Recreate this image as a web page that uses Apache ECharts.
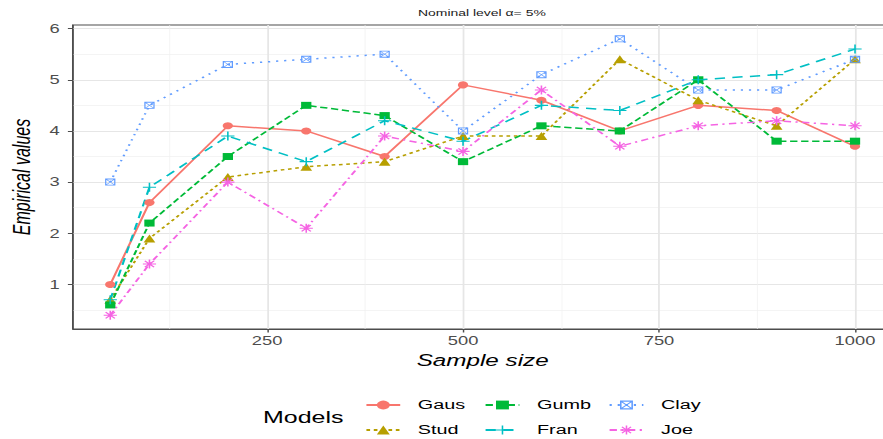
<!DOCTYPE html>
<html><head><meta charset="utf-8">
<script src="https://cdn.jsdelivr.net/npm/echarts@6/dist/echarts.min.js"></script>
<style>
html,body{margin:0;padding:0;background:#fff;overflow:hidden;width:883px;height:439px;}
#chart{width:601px;height:439px;transform:scaleX(1.46922);transform-origin:0 0;}
</style></head><body><div id="chart"></div>
<script>
// ---- data ----
const sampleSizes = [50, 100, 200, 300, 400, 500, 600, 700, 800, 900, 1000];
const gaus = [1.0, 2.6, 4.1, 4.0, 3.5, 4.9, 4.6, 4.0, 4.5, 4.4, 3.7];
const stud = [0.7, 1.9, 3.1, 3.3, 3.4, 3.9, 3.9, 5.4, 4.6, 4.1, 5.4];
const gumb = [0.6, 2.2, 3.5, 4.5, 4.3, 3.4, 4.1, 4.0, 5.0, 3.8, 3.8];
const fran = [0.7, 2.9, 3.9, 3.4, 4.2, 3.8, 4.5, 4.4, 5.0, 5.1, 5.6];
const clay = [3.0, 4.5, 5.3, 5.4, 5.5, 4.0, 5.1, 5.8, 4.8, 4.8, 5.4];
const joe  = [0.4, 1.4, 3.0, 2.1, 3.9, 3.6, 4.8, 3.7, 4.1, 4.2, 4.1];
const modelNames = ['Gaus', 'Stud', 'Gumb', 'Fran', 'Clay', 'Joe'];
const xTicks = [250, 500, 750, 1000];
const xMinor = [125, 375, 625, 875];
const yTicks = [1, 2, 3, 4, 5, 6];
const yMinor = [0.5, 1.5, 2.5, 3.5, 4.5, 5.5];
const titleText = 'Nominal level \u03b1= 5%';
const xTitle = 'Sample size';
const yTitle = 'Empirical values';
const legendTitle = 'Models';

// ---- styles ----
const FONT = '"Liberation Sans", Arial, Helvetica, sans-serif';
const P_SQX = 'path://M0,0 L100,0 L100,100 L0,100 Z M12,12 L12,88 L88,88 L88,12 Z M6,0 L100,94 L94,100 L0,6 Z M94,0 L100,6 L6,100 L0,94 Z';
const P_PLUS = 'path://M44,0 L56,0 L56,44 L100,44 L100,56 L56,56 L56,100 L44,100 L44,56 L0,56 L0,44 L44,44 Z';
const P_AST = 'path://M44,0 L56,0 L56,44 L100,44 L100,56 L56,56 L56,100 L44,100 L44,56 L0,56 L0,44 L44,44 Z M19.2,10.8 L89.2,80.8 L80.8,89.2 L10.8,19.2 Z M89.2,19.2 L19.2,89.2 L10.8,80.8 L80.8,10.8 Z';
const styles = {
  Gaus: {color: '#F8766D', symbol: 'circle', size: 7, type: 'solid'},
  Stud: {color: '#B79F00', symbol: 'triangle', size: 8, type: [2.5, 2.5]},
  Gumb: {color: '#00BA38', symbol: 'rect', size: 7, type: [5, 2.5]},
  Fran: {color: '#00BFC4', symbol: P_PLUS, size: 9, type: [7, 5]},
  Clay: {color: '#619CFF', symbol: P_SQX, size: 7, type: [1.5, 4]},
  Joe:  {color: '#F564E3', symbol: P_AST, size: 9, type: [5, 3, 1.5, 3]}
};
const values = {Gaus: gaus, Stud: stud, Gumb: gumb, Fran: fran, Clay: clay, Joe: joe};

const series = modelNames.map(n => ({
  name: n, type: 'line', xAxisIndex: 0, yAxisIndex: 0, z: 3,
  data: sampleSizes.map((x, i) => [x, values[n][i]]),
  symbol: styles[n].symbol, symbolSize: styles[n].size, showSymbol: true,
  itemStyle: {color: styles[n].color, opacity: 1},
  lineStyle: {color: styles[n].color, width: 1.5, type: styles[n].type},
  emphasis: {disabled: true}, animation: false, clip: false
}));

const legendBase = {
  orient: 'vertical', padding: 0, itemWidth: 23, itemHeight: 11, itemGap: 9,
  selectedMode: false,
  textStyle: {fontFamily: FONT, fontSize: 13.5, color: '#000', lineHeight: 16, padding: [0, 0, 0, 7]}
};

const option = {
  backgroundColor: '#fff',
  animation: false,
  grid: {left: 49.7, top: 25, width: 557.6, height: 304, show: true, borderColor: '#4d4d4d', borderWidth: 1,
         backgroundColor: 'transparent', containLabel: false, outerBoundsMode: 'none'},
  xAxis: [
    {type: 'value', min: 2.5, max: 1047.5, position: 'bottom',
     axisLine: {show: true, onZero: false, lineStyle: {color: '#4d4d4d', width: 1}},
     axisTick: {show: true, length: 3.5, customValues: xTicks, lineStyle: {color: '#4d4d4d', width: 1}},
     axisLabel: {customValues: xTicks, margin: 5, color: '#4d4d4d', fontSize: 12.5, fontFamily: FONT,
                 formatter: v => String(v)},
     splitLine: {show: true, lineStyle: {color: '#e6e6e6', width: 1.2}},
     name: xTitle, nameLocation: 'middle', nameGap: 17,
     nameTextStyle: {fontStyle: 'italic', fontSize: 16.5, color: '#000', fontFamily: FONT, verticalAlign: 'top'}},
    {type: 'value', min: 2.5, max: 1047.5, position: 'top',
     axisLine: {show: false}, axisTick: {show: false, customValues: xMinor},
     axisLabel: {show: false, customValues: xMinor},
     splitLine: {show: true, lineStyle: {color: '#f0f0f0', width: 0.6}}}
  ],
  yAxis: [
    {type: 'value', min: 0.13, max: 6.07, position: 'left',
     axisLine: {show: true, onZero: false, lineStyle: {color: '#4d4d4d', width: 1}},
     axisTick: {show: true, length: 3.5, customValues: yTicks, lineStyle: {color: '#4d4d4d', width: 1}},
     axisLabel: {customValues: yTicks, margin: 9, color: '#4d4d4d', fontSize: 12.5, fontFamily: FONT,
                 formatter: v => String(v)},
     splitLine: {show: true, lineStyle: {color: '#e6e6e6', width: 1.2}},
     name: yTitle, nameLocation: 'middle', nameGap: 27,
     nameTextStyle: {fontStyle: 'italic', fontSize: 16, color: '#000', fontFamily: FONT}},
    {type: 'value', min: 0.13, max: 6.07, position: 'right',
     axisLine: {show: false}, axisTick: {show: false, customValues: yMinor},
     axisLabel: {show: false, customValues: yMinor},
     splitLine: {show: true, lineStyle: {color: '#f0f0f0', width: 0.6}}}
  ],
  legend: [
    Object.assign({}, legendBase, {left: 248.4, top: 397, data: ['Gaus', 'Stud']}),
    Object.assign({}, legendBase, {left: 329.5, top: 397, data: ['Gumb', 'Fran']}),
    Object.assign({}, legendBase, {left: 413.9, top: 397, data: ['Clay', 'Joe']})
  ],
  graphic: [
    {type: 'text', x: 328, y: 13, silent: true,
     style: {text: titleText, fontFamily: FONT, fontSize: 9.5, fill: '#1a1a1a', align: 'center', verticalAlign: 'middle'}},
    {type: 'text', x: 179, y: 417, silent: true,
     style: {text: legendTitle, fontFamily: FONT, fontSize: 17, fill: '#000', align: 'left', verticalAlign: 'middle'}}
  ],
  series: series
};
const chart = echarts.init(document.getElementById('chart'), null, {renderer: 'svg'});
chart.setOption(option);
</script></body></html>
